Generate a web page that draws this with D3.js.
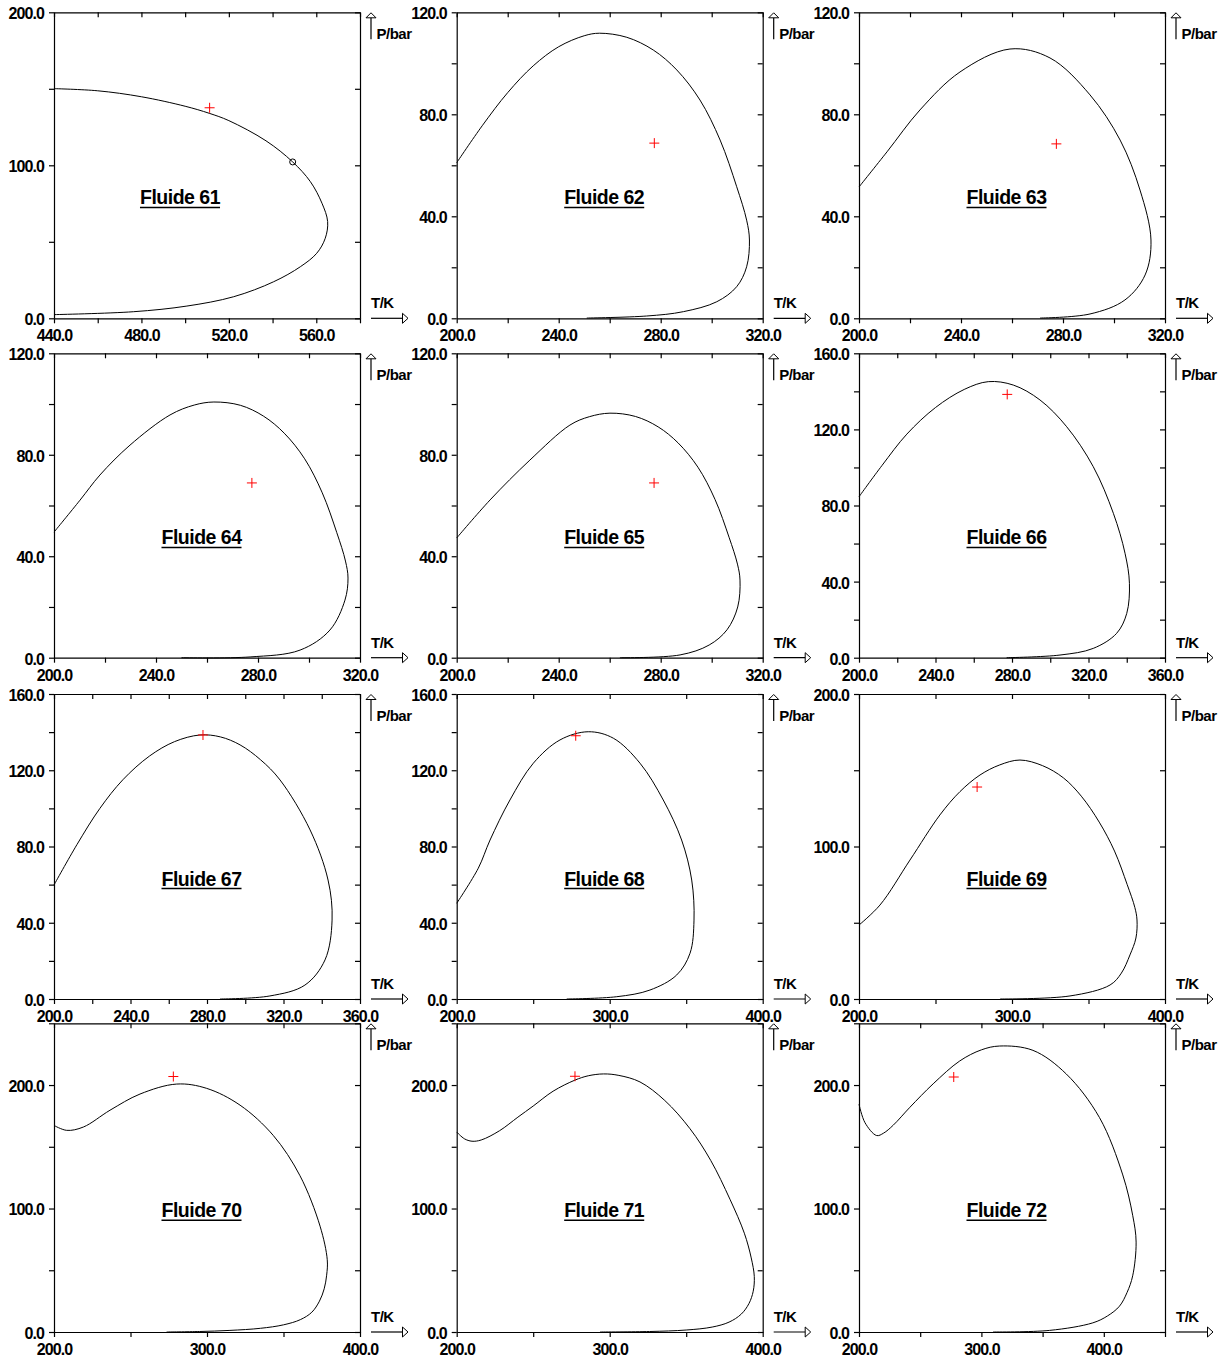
<!DOCTYPE html>
<html>
<head>
<meta charset="utf-8">
<script src="https://cdn.jsdelivr.net/npm/d3@7"></script>
<style>
  html, body { margin: 0; padding: 0; background: #fff; }
  svg text { font-family: "Liberation Sans", Arial, Helvetica, sans-serif; font-weight: bold; fill: #000; }
</style>
</head>
<body>
<svg id="chart" width="1224" height="1359"></svg>
<script>
// ---------------- DATA ----------------
const fluidNames = ["Fluide 61","Fluide 62","Fluide 63","Fluide 64","Fluide 65","Fluide 66",
                    "Fluide 67","Fluide 68","Fluide 69","Fluide 70","Fluide 71","Fluide 72"];
const tempDomains  = [[440,580],[200,320],[200,320],[200,320],[200,320],[200,360],
                      [200,360],[200,400],[200,400],[200,400],[200,400],[200,450]];
const tempMinorStep = [20,20,20,20,20,20,20,50,50,50,50,50];
const tempMajorStep = [40,40,40,40,40,40,40,100,100,100,100,100];
const presDomains  = [[0,200],[0,120],[0,120],[0,120],[0,120],[0,160],
                      [0,160],[0,160],[0,200],[0,250],[0,250],[0,250]];
const presMinorStep = [50,20,20,20,20,20,20,20,50,50,50,50];
const presMajorStep = [100,40,40,40,40,40,40,40,100,100,100,100];
const xAxisLabel = "T/K";
const yAxisLabel = "P/bar";

// phase envelopes [T (K), P (bar)]
const env61 = [[440,150.1],[460,148.7],[480,144.8],[500,138.6],[511,134.0],[520,129.2],[537,116.0],[549.2,102.2],
  [557.3,89.3],[562.6,75.2],[565.2,63.2],[564.1,52.3],[560.2,42.5],[552.7,33.7],[540.5,23.9],[522.2,14.1],
  [500.8,8.0],[476.3,4.3],[440,2.4]];
const env62 = [[200,61.0],[210,75.5],[220,88.5],[230,99],[240,106.5],[250,110.8],[256,111.8],[266.7,110.2],
  [277.1,105.2],[286.3,97.4],[295.4,85.6],[303.3,69.9],[309.8,51.6],[313.7,38.5],[314.8,30.7],[313.7,20.2],
  [309.8,12.4],[302,6.5],[288.9,2.6],[274.5,0.9],[251,0.1]];
const env63 = [[200,51.5],[211,65.3],[223.9,81.7],[239.6,96.6],[259.2,105.6],[274.9,102.1],[290.6,87.6],
  [302.4,69.9],[310.2,50.3],[314.5,30.7],[312.2,17],[304.3,7.2],[290.6,1.7],[271,0.1]];
const env64 = [[200,49.5],[210.2,62.1],[218,72],[229.8,83.8],[245.5,95.7],[255,99.6],[262.7,100.8],[273.1,99.5],
  [282.2,95.2],[290.3,88.5],[298.3,78.4],[305.2,65.0],[310.9,49.3],[314.3,38.1],[315.3,31.4],[314.1,22.7],
  [308.2,10.9],[296.5,3],[276.9,0.3],[250,0]];
const env65 = [[200,47.2],[213.1,62.2],[228.7,77.9],[244.4,91.7],[252,95],[260.1,96.4],[270.1,95.1],[279,91],
  [286.8,84.7],[294.6,75.1],[301.3,62.4],[306.8,47.5],[310.1,36.9],[311.1,30.6],[310.2,20],[306,11],[299,5],
  [287.6,1.1],[264,0]];
const env66 = [[200,84.6],[212,101],[225,117.5],[240,131.5],[255,141],[267.6,145.1],[280.7,143.3],[294.6,135.5],
  [308.6,121.4],[322.5,100.4],[333,75.9],[339.1,54.9],[341.4,39.1],[340,23.3],[334.7,12.8],[322.5,4.9],
  [305.1,1.4],[277.2,0]];
const env67 = [[200,59.8],[212,81],[224,100],[236,115],[250,127.5],[263,135],[276.3,138.5],[287,137.5],
  [297.3,133.3],[308,125.5],[318.2,114.9],[333.9,88.7],[343.3,62.4],[345.4,41.4],[341.7,20.5],[331.2,7.3],
  [312.9,1.6],[286.8,0]];
const env68 = [[200,50.2],[214.1,68.6],[221.8,83.4],[234.8,104.4],[250.1,123.7],[267.5,135.9],[286,140.2],
  [302.4,136.8],[319.8,123.7],[335,104.4],[347,83.4],[353.6,62.4],[355.1,41.4],[352.5,24],[343.8,12.6],
  [326.3,4.7],[304.6,1.2],[271.9,0]];
const env69 = [[200,48.5],[213.7,61.6],[233.3,91.1],[252.9,120.7],[266,136],[279.1,146.9],[292,153.5],
  [305.2,156.7],[320,153],[333.6,145],[345.3,133],[357,116],[367,97],[375.3,75],[380.3,60],[381.7,51.8],
  [381,40],[377.1,28.9],[371.5,17],[364.1,9.2],[337.9,2],[292.2,0]];
const env70 = [[200,167.3],[208.3,163.3],[219.2,166],[236.6,179.6],[256.2,192.7],[280.2,200.8],[299.8,197.3],
  [321.6,183.7],[343.3,159.2],[360.8,126.5],[373.9,85.7],[378.6,58.5],[378.2,46],[376.6,35],[373.5,25],
  [368.5,16],[361,10],[350,5.8],[335,3],[315,1.3],[295,0.4],[273.6,0]];
const env71 = [[200,162],[205,156.5],[210,154.5],[216,155.5],[228,163],[240,174],[250,183],[263,195],
  [277.3,204],[286,207.5],[296,209],[306,207.8],[319.8,202.5],[336,187.5],[352.5,164.6],[366,139],[378.6,107.5],
  [388,80],[392.5,60],[394.5,45],[393.8,33],[391,23],[386,14.5],[378,8],[367,4],[350,1.6],[326,0.4],[293.7,0]];
const env72 = [[200,184.5],[204.9,169.5],[214.4,159.1],[220,161],[228,167.5],[241.6,182],[260.6,201],
  [282.3,219.5],[300,228.5],[314.9,231.6],[342.1,228.1],[369.3,209],[396.5,173.6],[415.5,127.2],[423.6,94.5],
  [426.4,72.8],[423.6,45.5],[419,32],[412.8,20.9],[403,13],[391,7.4],[355.7,1.3],[309.5,0]];
const envelopes = [env61,env62,env63,env64,env65,env66,env67,env68,env69,env70,env71,env72];

// red "+" markers and the single open-circle marker (Fluide 61)
const crossT = [511.2,277.5,277.4,277.6,277.4,277.5,277.9,277.8,277.2,278.0,277.3,277.4];
const crossP = [137.6,68.7,68.4,68.9,68.9,138.4,138.5,138.1,139.0,206.9,207.1,206.5];
const circleT = [549.2];
const circleP = [102.2];

// ---------------- LAYOUT ----------------
const colLeft = [54, 456.7, 859];
const rowTop = [12.3, 353.3, 694, 1023.3];
const rowBottom = [318.3, 657.7, 999, 1332];
const plotW = 306;
const titleCenterOffset = [126,147.5,147.5,147.5,147.5,147.5,147.5,147.5,147.5,147.5,147.5,147.5];

const svg = d3.select("#chart");
const fmt = d3.format(".1f");
const TICK = 5;

function ticksFor(dom, step) {
  const out = [];
  for (let v = dom[0]; v <= dom[1] + 1e-9; v += step) out.push(+v.toFixed(6));
  return out;
}
function isMajor(v, start, step) {
  const k = (v - start) / step;
  return Math.abs(k - Math.round(k)) < 1e-6;
}

fluidNames.forEach((name, i) => {
  const col = i % 3, row = Math.floor(i / 3);
  const left = colLeft[col], right = left + plotW;
  const top = rowTop[row], bottom = rowBottom[row];
  const x = d3.scaleLinear().domain(tempDomains[i]).range([left, right]);
  const y = d3.scaleLinear().domain(presDomains[i]).range([bottom, top]);
  const xt = ticksFor(tempDomains[i], tempMinorStep[i]);
  const yt = ticksFor(presDomains[i], presMinorStep[i]);

  const g = svg.append("g");

  const gb = g.append("g").attr("transform", `translate(0,${bottom})`)
    .call(d3.axisBottom(x).tickValues(xt).tickSizeInner(TICK).tickSizeOuter(0).tickPadding(7)
      .tickFormat(v => isMajor(v, tempDomains[i][0], tempMajorStep[i]) ? fmt(v) : ""));
  const gl = g.append("g").attr("transform", `translate(${left},0)`)
    .call(d3.axisLeft(y).tickValues(yt).tickSizeInner(TICK).tickSizeOuter(0).tickPadding(5)
      .tickFormat(v => isMajor(v, presDomains[i][0], presMajorStep[i]) ? fmt(v) : ""));
  const gt = g.append("g").attr("transform", `translate(0,${top})`)
    .call(d3.axisTop(x).tickValues(xt).tickSizeInner(-TICK).tickSizeOuter(0).tickFormat(""));
  const gr = g.append("g").attr("transform", `translate(${right},0)`)
    .call(d3.axisRight(y).tickValues(yt).tickSizeInner(-TICK).tickSizeOuter(0).tickFormat(""));

  [gb, gl, gt, gr].forEach(a => {
    a.attr("font-family", null).attr("font-size", null);
    a.selectAll("path.domain").attr("stroke", "#000").attr("stroke-width", 1.2);
    a.selectAll(".tick line").attr("stroke", "#000").attr("stroke-width", 1.2);
    a.selectAll(".tick text").attr("fill", "#000")
      .style("font-size", "16px").style("letter-spacing", "-0.9px");
  });
  gl.selectAll(".tick text").attr("dy", "0.40em");
  gb.selectAll(".tick text").attr("dy", "0.68em");

  const line = d3.line().x(d => x(d[0])).y(d => y(d[1])).curve(d3.curveCatmullRom.alpha(0.5));
  g.append("path").datum(envelopes[i]).attr("d", line)
    .attr("fill", "none").attr("stroke", "#000").attr("stroke-width", 1);

  const cx = x(crossT[i]), cy = y(crossP[i]);
  g.append("path").attr("d", `M${cx-5},${cy}H${cx+5}M${cx},${cy-5}V${cy+5}`)
    .attr("stroke", "#ff0000").attr("stroke-width", 1).attr("fill", "none");

  if (i === 0) {
    circleT.forEach((t, k) => {
      g.append("circle").attr("cx", x(t)).attr("cy", y(circleP[k])).attr("r", 3)
        .attr("fill", "none").attr("stroke", "#000").attr("stroke-width", 1);
    });
  }

  const tx = left + titleCenterOffset[i];
  const ty = top + 0.628 * (bottom - top);
  const t = g.append("text").attr("x", tx).attr("y", ty).attr("text-anchor", "middle")
    .style("font-size", "19.5px").style("letter-spacing", "-0.5px").text(name);
  const tw = t.node().getComputedTextLength();
  g.append("line").attr("x1", tx - tw / 2).attr("x2", tx + tw / 2)
    .attr("y1", ty + 3).attr("y2", ty + 3).attr("stroke", "#000").attr("stroke-width", 1.5);

  const ax = right + 11;
  g.append("line").attr("x1", ax).attr("x2", ax).attr("y1", top + 27).attr("y2", top + 5.5)
    .attr("stroke", "#000").attr("stroke-width", 1.2);
  g.append("path").attr("d", `M${ax-5},${top+5.5}L${ax+5},${top+5.5}L${ax},${top+0.5}Z`)
    .attr("fill", "#fff").attr("stroke", "#000").attr("stroke-width", 1);
  g.append("text").attr("x", right + 16.5).attr("y", top + 27)
    .style("font-size", "15px").style("letter-spacing", "-0.5px").text(yAxisLabel);

  g.append("line").attr("x1", ax).attr("x2", right + 42.5).attr("y1", bottom).attr("y2", bottom)
    .attr("stroke", "#000").attr("stroke-width", 1.2);
  g.append("path").attr("d", `M${right+42.5},${bottom-5}L${right+42.5},${bottom+5}L${right+48},${bottom}Z`)
    .attr("fill", "#fff").attr("stroke", "#000").attr("stroke-width", 1);
  g.append("text").attr("x", ax).attr("y", bottom - 10)
    .style("font-size", "15px").style("letter-spacing", "-0.5px").text(xAxisLabel);
});
</script>
</body>
</html>
